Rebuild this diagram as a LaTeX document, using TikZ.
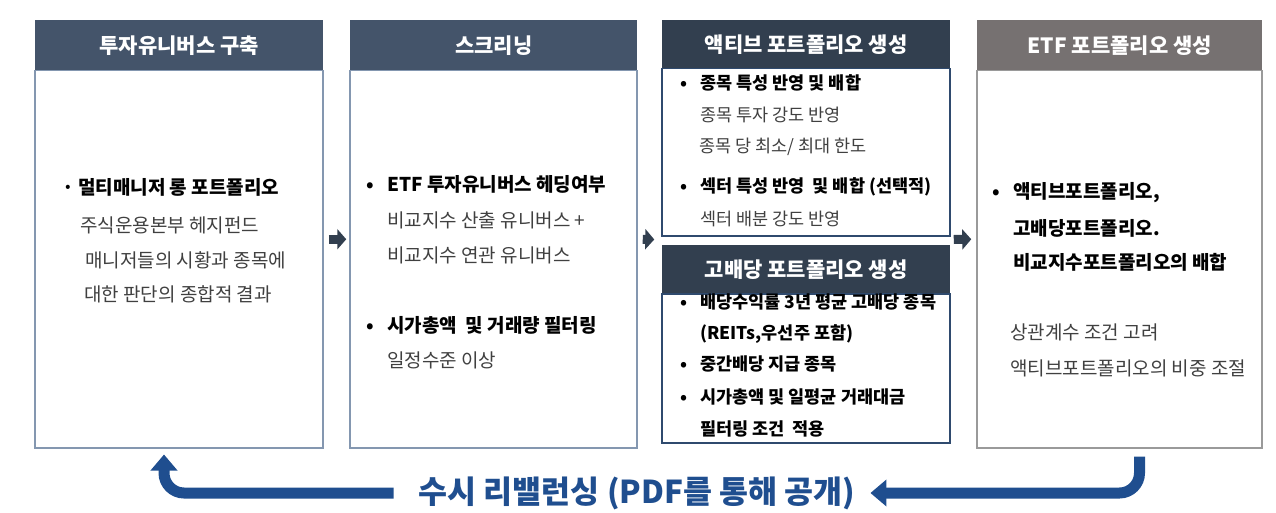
\documentclass[tikz,border=0pt]{standalone}
\usepackage{fontspec}
\setmainfont{Noto Sans CJK KR}
\usepackage{tikz}
\usetikzlibrary{calc,arrows.meta}
\definecolor{headblue}{HTML}{44546A}
\definecolor{headdark}{HTML}{323F4F}
\definecolor{headgrey}{HTML}{767171}
\definecolor{lineblue}{HTML}{8497B0}
\definecolor{linegrey}{HTML}{9A9A9A}
\definecolor{linedark}{HTML}{2F4A6E}
\definecolor{rebalblue}{HTML}{1F4E8F}
\definecolor{textgrey}{HTML}{404040}
\newcommand{\headsize}{\fontsize{21}{21}\selectfont}
\newcommand{\bodysize}{\fontsize{19}{19}\selectfont}
\newcommand{\smallsize}{\fontsize{17.5}{17.5}\selectfont}
\newcommand{\dotbox}[1]{\makebox[#1][l]{•}}
\newcommand{\thick}{1.5pt}

\tikzset{
  head/.style={inner sep=0pt, text=white, font=\headsize\bfseries, anchor=north west, minimum height=50pt},
  bodybox/.style={inner sep=0pt, fill=white, line width=\thick, anchor=north},
  txt/.style={inner sep=0pt, anchor=west, text height=0.8em, text depth=0.2em, text=textgrey, font=\bodysize},
  btxt/.style={txt, text=black, font=\bodysize\bfseries},
  stxt/.style={txt, font=\smallsize},
  sbtxt/.style={txt, text=black, font=\smallsize\bfseries},
  flow/.style={headdark, line width=9pt, -{Triangle[length=9pt,width=20pt]}},
  rebal/.style={rebalblue, line width=11pt, rounded corners=20pt, -{Triangle[length=16pt,width=26pt]}}
}

\begin{document}
\begin{tikzpicture}[x=1pt,y=-1pt]
\useasboundingbox (0,0) rectangle (1276,513);
%box 1
\node[bodybox, draw=lineblue, minimum width=288pt, minimum height=377pt] (b1) at (179,70) {};
\node[head, fill=headblue, minimum width=288pt] (h1) at (35,20) {투자유니버스 구축};
\node[btxt] (t11) at (62,192) {\makebox[16pt][l]{·}멀티매니저 롱 포트폴리오};
\node[txt] (t12) at (80,229) {주식운용본부 헤지펀드};
\node[txt] (t13) at (85,264) {매니저들의 시황과 종목에};
\node[txt] (t14) at (84,298) {대한 판단의 종합적 결과};
%box 2
\node[bodybox, draw=lineblue, minimum width=287pt, minimum height=377pt] (b2) at (493.5,70) {};
\node[head, fill=headblue, minimum width=287pt] (h2) at (350,20) {스크리닝};
\node[btxt] (t21) at (366,188) {\dotbox{21pt}ETF 투자유니버스 헤딩여부};
\node[txt] (t22) at (387,224) {비교지수 산출 유니버스 +};
\node[txt] (t23) at (387,259) {비교지수 연관 유니버스};
\node[btxt] (t24) at (366,329) {\dotbox{21pt}시가총액~ 및 거래량 필터링};
\node[txt] (t25) at (387,364) {일정수준 이상};
%box 3
\node[bodybox, draw=linedark, minimum width=288pt, minimum height=167pt] (b3) at (806,68) {};
\node[head, fill=headdark, minimum width=288pt, minimum height=48pt] (h3) at (662,20) {액티브 포트폴리오 생성};
\node[sbtxt] (t31) at (680,87) {\dotbox{20pt}종목 특성 반영 및 배합};
\node[stxt] (t32) at (700,119) {종목 투자 강도 반영};
\node[stxt] (t33) at (699,150) {종목 당 최소/ 최대 한도};
\node[sbtxt] (t34) at (680,190) {\dotbox{20pt}섹터 특성 반영~ 및 배합 (선택적)};
\node[stxt] (t35) at (700,222) {섹터 배분 강도 반영};
%box 4
\node[bodybox, draw=linedark, minimum width=288pt, minimum height=149pt] (b4) at (806,293) {};
\node[head, fill=headdark, minimum width=288pt, minimum height=48pt] (h4) at (662,245) {고배당 포트폴리오 생성};
\node[sbtxt] (t41) at (680,305) {\dotbox{20pt}배당수익률 3년 평균 고배당 종목};
\node[sbtxt] (t42) at (700,336) {(REITs,우선주 포함)};
\node[sbtxt] (t43) at (680,367) {\dotbox{20pt}중간배당 지급 종목};
\node[sbtxt] (t44) at (680,400) {\dotbox{20pt}시가총액 및 일평균 거래대금};
\node[sbtxt] (t45) at (700,432) {필터링 조건~ 적용};
%box 5
\node[bodybox, draw=linegrey, minimum width=285pt, minimum height=377pt] (b5) at (1119.5,70) {};
\node[head, fill=headgrey, minimum width=285pt] (h5) at (977,20) {ETF 포트폴리오 생성};
\node[btxt] (t51) at (992,196) {\dotbox{21pt}액티브포트폴리오,};
\node[btxt] (t52) at (1013,232) {고배당포트폴리오.};
\node[btxt] (t53) at (1013,266) {비교지수포트폴리오의 배합};
\node[txt] (t54) at (1010,336) {상관계수 조건 고려};
\node[txt] (t55) at (1010,372) {액티브포트폴리오의 비중 조절};
%flow
\draw[flow] ([xshift=5pt,yshift=20pt]b1.east) -- ([xshift=-3pt,yshift=20pt]b2.west);
\draw[flow] ([xshift=5pt,yshift=20pt]b2.east) -- ([xshift=-7pt,yshift=-3pt]b3.south west);
\draw[flow] ([xshift=3pt,yshift=-3pt]b3.south east) -- ([xshift=-5pt,yshift=20pt]b5.west);
%rebalancing
\node[inner sep=0pt, text=rebalblue, font=\fontsize{31.5}{31.5}\selectfont\bfseries] (r) at (637,493) {수시 리밸런싱 (PDF를 통해 공개)};
\draw[rebal] ([xshift=20pt,yshift=-8pt]b5.south) |- ([xshift=15pt]r.east);
\draw[rebal] ([xshift=-25pt]r.west) -| ([xshift=-15pt,yshift=-6pt]b1.south);
\end{tikzpicture}
\end{document}
